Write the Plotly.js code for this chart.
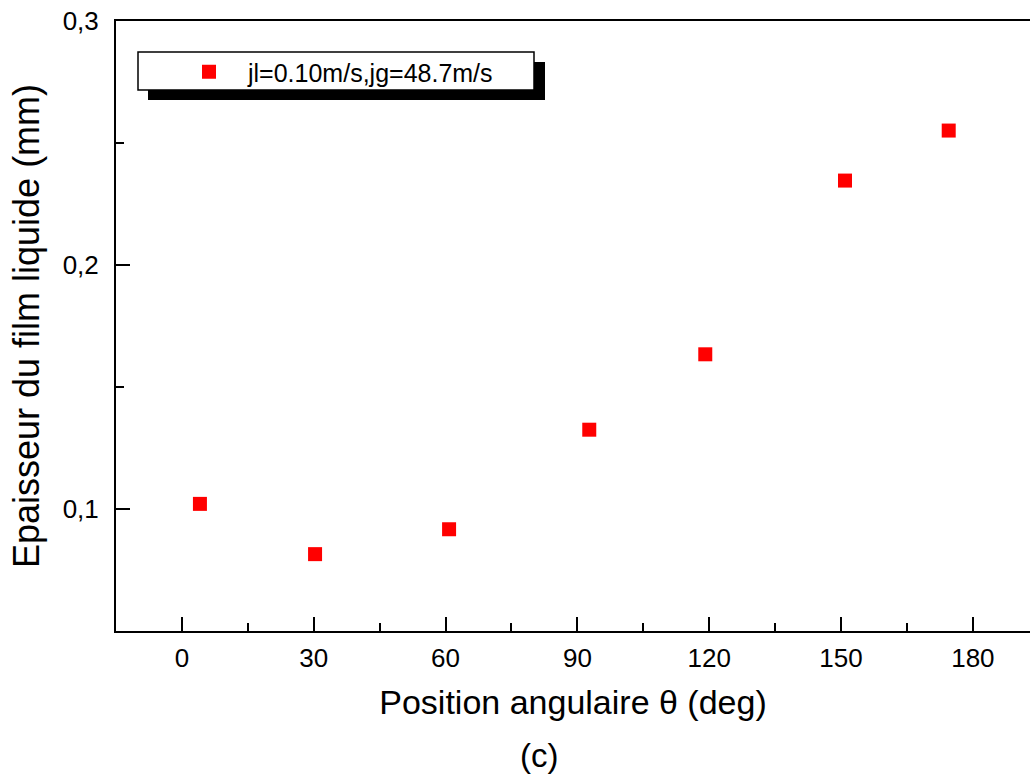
<!DOCTYPE html>
<html>
<head>
<meta charset="utf-8">
<script src="https://cdn.plot.ly/plotly-3.0.1.min.js"></script>
<style>html,body{margin:0;padding:0;background:#fff;}#chart{width:1030px;height:778px;}</style>
</head>
<body>
<div id="chart"></div>
<script>
const theta = [4.1, 30.3, 60.8, 92.7, 119.1, 150.9, 174.5];
const thickness = [0.1021, 0.0815, 0.0917, 0.1325, 0.1634, 0.2346, 0.2551];
const seriesName = 'jl=0.10m/s,jg=48.7m/s';
const xTitle = 'Position angulaire \u03b8 (deg)';
const yTitle = 'Epaisseur du film liquide (mm)';
const caption = '(c)';

const FONT = 'Liberation Sans, Arial, sans-serif';
const W = 1030, H = 778;
const M = {l:116, r:0, t:21, b:147};
const pw = W - M.l - M.r, ph = H - M.t - M.b;
const px = v => (v - M.l) / pw;
const py = v => (H - M.b - v) / ph;

const trace = {
  x: theta, y: thickness, name: seriesName,
  type: 'scatter', mode: 'markers',
  marker: {symbol: 'square', size: 14, color: '#ff0000'},
  showlegend: true
};

const layout = {
  width: W, height: H,
  margin: M,
  paper_bgcolor: '#fff', plot_bgcolor: '#fff',
  separators: ', ',
  font: {family: FONT, color: '#000'},
  showlegend: true,
  legend: {
    x: px(170), y: py(72), xanchor: 'left', yanchor: 'middle',
    bgcolor: 'rgba(0,0,0,0)', borderwidth: 0,
    font: {family: FONT, size: 25, color: '#000'},
    itemwidth: 68
  },
  xaxis: {
    range: [-15, 193], showgrid: false, zeroline: false,
    showline: true, linecolor: '#000', linewidth: 2, mirror: true,
    ticks: 'inside', ticklen: 14, tickwidth: 2, tickcolor: '#000',
    tick0: 0, dtick: 30,
    minor: {dtick: 15, ticks: 'inside', ticklen: 8, tickwidth: 2, tickcolor: '#000'},
    tickfont: {family: FONT, size: 26}, ticklabelstandoff: 3,
    title: {text: xTitle, font: {family: FONT, size: 34}, standoff: 18}
  },
  yaxis: {
    range: [0.05, 0.3], showgrid: false, zeroline: false,
    showline: true, linecolor: '#000', linewidth: 2, mirror: false,
    ticks: 'inside', ticklen: 14, tickwidth: 2, tickcolor: '#000',
    tick0: 0.1, dtick: 0.1, tickformat: '.1f',
    minor: {dtick: 0.05, ticks: 'inside', ticklen: 8, tickwidth: 2, tickcolor: '#000'},
    tickfont: {family: FONT, size: 26}, ticklabelstandoff: 10,
    title: {text: yTitle, font: {family: FONT, size: 36}, standoff: 12}
  },
  shapes: [
    {type: 'rect', xref: 'paper', yref: 'paper', layer: 'above',
     x0: px(148), x1: px(545), y0: py(62), y1: py(100),
     fillcolor: '#000', line: {width: 0}},
    {type: 'rect', xref: 'paper', yref: 'paper', layer: 'above',
     x0: px(138), x1: px(534), y0: py(52), y1: py(90),
     fillcolor: '#fff', line: {color: '#000', width: 1.5}}
  ],
  annotations: [
    {text: caption, xref: 'paper', yref: 'paper', x: px(539), y: py(755),
     xanchor: 'center', yanchor: 'middle', showarrow: false,
     font: {family: FONT, size: 33, color: '#000'}}
  ]
};

Plotly.newPlot('chart', [trace], layout, {displayModeBar: false, staticPlot: true});
</script>
</body>
</html>
